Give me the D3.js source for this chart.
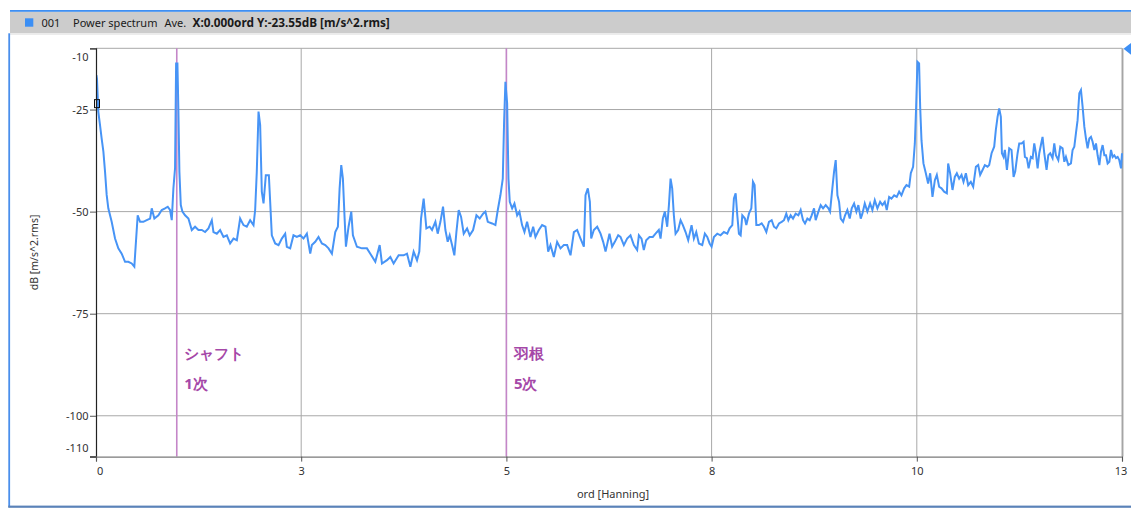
<!DOCTYPE html>
<html>
<head>
<meta charset="utf-8">
<script src="https://cdn.jsdelivr.net/npm/d3@7"></script>
<style>
  html, body { margin: 0; padding: 0; background: #ffffff; }
  svg { display: block; }
  text { font-family: "Noto Sans", "Open Sans", sans-serif; }
</style>
</head>
<body>
<svg id="chart" width="1131" height="508"></svg>
<script>
// Power spectrum (averaged), order axis vs dB
const ord = [
  0, 0.005, 0.012, 0.028, 0.049, 0.069, 0.090, 0.110, 0.130, 0.150, 0.191, 0.232, 0.272, 0.313, 0.354, 0.394,
  0.435, 0.467, 0.484, 0.508, 0.537, 0.577, 0.618, 0.659, 0.679, 0.711, 0.760, 0.801, 0.841, 0.874, 0.902,
  0.923, 0.943, 0.963, 0.976, 0.992, 1.004, 1.016, 1.033, 1.053, 1.085, 1.126, 1.167, 1.207, 1.248, 1.289,
  1.329, 1.370, 1.411, 1.431, 1.472, 1.512, 1.553, 1.594, 1.634, 1.675, 1.716, 1.756, 1.797, 1.837, 1.878,
  1.919, 1.939, 1.959, 1.980, 2.000, 2.020, 2.041, 2.069, 2.106, 2.122, 2.142, 2.183, 2.224, 2.264, 2.305,
  2.325, 2.366, 2.406, 2.447, 2.488, 2.528, 2.569, 2.610, 2.630, 2.671, 2.711, 2.752, 2.793, 2.833, 2.874,
  2.915, 2.947, 2.968, 2.988, 3.008, 3.029, 3.045, 3.077, 3.110,
  3.130, 3.179, 3.240, 3.301, 3.342, 3.403, 3.456, 3.484, 3.545, 3.586, 3.626, 3.687, 3.748, 3.789, 3.830,
  3.870, 3.911, 3.939, 3.960, 3.992, 4.025, 4.065, 4.094, 4.135, 4.163, 4.196, 4.228, 4.257, 4.285, 4.309,
  4.338, 4.366, 4.391, 4.419, 4.448, 4.480, 4.521, 4.553, 4.594, 4.635, 4.675, 4.716, 4.744, 4.773, 4.826,
  4.866, 4.895, 4.927, 4.956, 4.972, 4.988, 5.009, 5.025, 5.041, 5.070, 5.098, 5.131, 5.159, 5.191, 5.220,
  5.252, 5.293, 5.326, 5.354, 5.395, 5.435, 5.476, 5.509, 5.537, 5.578, 5.618, 5.659, 5.700, 5.740, 5.781,
  5.822, 5.862, 5.903, 5.944, 5.964, 5.992, 6.017, 6.033, 6.065, 6.106, 6.147, 6.179, 6.208,
  6.256, 6.288, 6.321, 6.362, 6.390, 6.431, 6.471, 6.512, 6.553, 6.593, 6.614, 6.646, 6.674, 6.703, 6.744,
  6.784, 6.817, 6.857, 6.878, 6.906, 6.931, 6.959, 6.980, 7.000, 7.020, 7.040, 7.061, 7.093, 7.122, 7.150,
  7.183, 7.215, 7.256, 7.284, 7.313, 7.345, 7.386, 7.418, 7.447, 7.476, 7.500, 7.528, 7.569, 7.609, 7.650,
  7.691, 7.719, 7.752, 7.772, 7.793, 7.813, 7.833, 7.854, 7.874, 7.906, 7.923, 7.955, 7.984, 8.004, 8.024,
  8.045, 8.077, 8.110, 8.138, 8.167, 8.199, 8.232, 8.260, 8.288, 8.321, 8.354, 8.382, 8.410, 8.435, 8.463,
  8.492, 8.524, 8.557, 8.585, 8.614, 8.638, 8.667, 8.695, 8.719, 8.748, 8.768, 8.801, 8.829, 8.858, 8.890,
  8.923, 8.943, 8.971, 8.992, 9.012, 9.033, 9.053, 9.073, 9.102, 9.126, 9.154, 9.183, 9.207, 9.236, 9.264,
  9.288, 9.317,
  9.337, 9.366, 9.398, 9.431, 9.459, 9.488, 9.520, 9.553, 9.581, 9.610, 9.634, 9.663, 9.691, 9.724, 9.756,
  9.785, 9.813, 9.846, 9.874, 9.907, 9.927, 9.955, 9.976, 9.992, 10.008, 10.028, 10.041, 10.057, 10.081, 10.110,
  10.138, 10.163, 10.191, 10.220, 10.244, 10.272, 10.301, 10.333, 10.366, 10.382, 10.406, 10.435, 10.463, 10.488, 10.516,
  10.545, 10.569, 10.598, 10.626, 10.658, 10.687, 10.720, 10.748, 10.772, 10.801, 10.829, 10.862, 10.882, 10.911, 10.943,
  10.963, 10.984, 11.004, 11.024, 11.037, 11.057, 11.073, 11.098, 11.126, 11.154, 11.179, 11.199, 11.228, 11.248, 11.276,
  11.301, 11.317, 11.341, 11.362, 11.390, 11.411, 11.431, 11.451, 11.472, 11.492, 11.512, 11.532, 11.553, 11.581, 11.602,
  11.626, 11.654, 11.675, 11.695, 11.724, 11.748, 11.776, 11.797, 11.817, 11.846, 11.878, 11.898, 11.919, 11.939, 11.959,
  11.980, 12.000, 12.020, 12.041, 12.061, 12.081, 12.102, 12.122, 12.142, 12.163, 12.183, 12.203, 12.224, 12.244, 12.264,
  12.285, 12.305, 12.325, 12.346, 12.366, 12.386, 12.406, 12.427, 12.447, 12.467, 12.488, 12.500
];

const dB = [
  -23.6, -16.6, -17.5, -25.5, -28.8, -32.1, -35.3, -40.2, -45.9, -49.2, -52.5, -56.6, -59.0, -60.3, -62.3, -62.3,
  -62.7, -63.5, -58.2, -50.9, -52.5, -52.5, -52.1, -51.7, -49.2, -51.7, -50.9, -49.6, -49.2, -48.8, -49.6,
  -52.1, -44.3, -39.4, -13.7, -13.7, -25.5, -40.2, -48.4, -50.0, -50.9, -51.7, -54.5, -53.7, -54.5, -54.5,
  -55.0, -54.1, -52.1, -55.0, -55.4, -54.5, -56.2, -55.8, -57.8, -56.6, -57.0, -51.7, -53.3, -53.7, -52.1,
  -53.3, -49.6, -40.2, -25.5, -28.8, -45.1, -48.0, -41.1, -41.1, -47.6, -55.8, -57.8, -58.2, -56.6, -55.4,
  -58.6, -59.0, -55.8, -56.2, -55.8, -56.6, -55.4, -60.3, -58.2, -57.4, -56.2, -57.8, -58.2, -59.0, -60.3,
  -55.0, -53.7, -44.3, -38.6, -41.9, -51.7, -58.6, -53.7, -50.0,
  -55.8, -58.6, -59.0, -59.0, -60.3, -62.3, -58.2, -62.7, -61.9, -61.1, -62.7, -60.7, -60.7, -60.3, -63.5,
  -59.8, -61.9, -59.8, -51.7, -46.8, -54.1, -53.7, -54.5, -52.5, -55.4, -52.5, -48.8, -54.5, -57.4, -55.8,
  -58.2, -60.7, -55.0, -49.6, -51.3, -55.4, -54.1, -55.8, -54.5, -50.9, -51.7, -50.5, -50.0, -52.5, -52.9,
  -53.3, -49.6, -46.0, -41.9, -28.0, -18.2, -23.5, -41.9, -47.6, -49.2, -48.0, -50.9, -50.0, -53.3, -55.0,
  -52.5, -56.2, -53.7, -56.2, -54.5, -53.3, -53.7, -59.8, -58.2, -61.1, -57.4, -59.0, -58.2, -58.2, -60.7,
  -55.0, -54.5, -56.6, -58.6, -46.0, -44.3, -47.6, -56.6, -54.5, -53.7, -55.4, -57.4, -59.8,
  -55.4, -58.6, -57.4, -55.8, -56.2, -58.2, -56.6, -55.8, -58.2, -59.4, -55.8, -56.6, -59.4, -57.0, -56.2,
  -56.2, -55.4, -54.5, -56.6, -51.7, -50.0, -53.7, -48.4, -41.9, -44.3, -50.9, -55.4, -54.5, -52.1, -53.3,
  -55.0, -57.0, -53.3, -56.6, -55.0, -57.8, -58.2, -55.4, -56.2, -57.8, -58.6, -56.2, -55.4, -55.8, -55.0,
  -55.4, -54.1, -53.3, -46.8, -45.5, -50.9, -55.4, -55.8, -50.9, -51.7, -53.3, -50.5, -49.2, -42.7, -43.5,
  -53.3, -53.3, -52.9, -53.7, -55.0, -52.5, -52.1, -53.7, -54.1, -52.9, -52.5, -52.1, -50.5, -52.1, -50.9,
  -51.7, -50.5, -50.9, -49.6, -52.1, -52.9, -51.7, -52.1, -50.9, -49.2, -52.1, -50.0, -48.4, -49.2, -48.4,
  -49.2, -50.0, -44.3, -40.2, -37.4, -46.0, -47.6, -51.7, -52.5, -50.9, -49.6, -51.7, -49.2, -48.0, -50.0,
  -48.4, -51.7,
  -50.5, -48.0, -50.0, -48.0, -49.6, -47.2, -49.2, -47.6, -48.4, -47.6, -49.6, -46.4, -46.8, -46.0, -46.4,
  -45.1, -46.0, -44.3, -43.5, -43.9, -40.6, -39.0, -33.3, -24.3, -13.3, -13.7, -24.3, -32.5, -38.2, -40.6,
  -43.1, -40.6, -46.4, -42.3, -41.0, -43.9, -44.3, -45.1, -45.5, -38.2, -40.6, -44.7, -41.5, -40.6, -41.9,
  -41.0, -42.7, -40.6, -43.5, -42.7, -43.9, -39.0, -38.6, -41.0, -39.8, -38.6, -39.0, -38.6, -35.7, -34.1,
  -30.0, -26.8, -24.7, -26.8, -35.7, -36.6, -34.9, -39.8, -34.5, -34.9, -41.5, -40.2, -35.7, -33.3, -33.3,
  -32.9, -36.6, -36.9, -39.4, -36.6, -36.9, -33.3, -35.7, -39.4, -35.7, -33.7, -31.7, -35.7, -39.8, -36.2,
  -35.7, -36.9, -33.3, -36.2, -37.4, -34.1, -34.5, -37.8, -36.6, -38.6, -38.2, -34.9, -34.1, -30.8, -27.6,
  -21.0, -20.2, -24.3, -29.2, -32.1, -34.5, -32.1, -31.7, -32.9, -34.9, -33.3, -36.2, -38.6, -35.3, -33.7,
  -36.2, -36.2, -38.2, -37.8, -34.9, -36.6, -36.2, -36.9, -36.6, -37.4, -39.4, -35.7
];

// Axis ticks
const yTicks = [-10, -25, -50, -75, -100, -110];
const xTicks = [0, 2.5, 5, 7.5, 10, 12.5];
const xTickLabels = ["0", "3", "5", "8", "10", "13"];

// Order markers
const markerOrd = [0.984, 5.0];
const markerLabels = [["シャフト", "1次"], ["羽根", "5次"]];

// Cursor readout
const cursorX = 0.0;
const cursorY = -23.55;

const svg = d3.select("#chart");
const W = 1131, H = 508;
const P = { left: 96, right: 1122, top: 48.3, bottom: 456.6 };

const x = d3.scaleLinear().domain([0, 12.5]).range([P.left, P.right]);
const y = d3.scaleLinear().domain([-110, -10]).range([P.bottom, P.top]);

// ---- window frame and title bar ----
svg.append("rect").attr("x", 10).attr("y", 11.7).attr("width", W - 10).attr("height", 21.6).attr("fill", "#cccccc");
svg.append("rect").attr("x", 10).attr("y", 33.3).attr("width", W - 10).attr("height", 1.5).attr("fill", "#e8e8e8");
svg.append("rect").attr("x", 10).attr("y", 10).attr("width", W - 10).attr("height", 1.8).attr("fill", "#3f8ff2");
svg.append("rect").attr("x", 8.3).attr("y", 33.3).attr("width", 1.8).attr("height", 474).attr("fill", "#4a8fec");
svg.append("rect").attr("x", 8.3).attr("y", 505.6).attr("width", W - 8).attr("height", 2.2).attr("fill", "#5a82b8");

svg.append("rect").attr("x", 25).attr("y", 18.3).attr("width", 8.3).attr("height", 8.4).attr("fill", "#3b8ff5");

const hdr = svg.append("g").attr("font-size", 11).attr("fill", "#1a1a1a");
hdr.append("text").attr("x", 41.5).attr("y", 27).text("001");
hdr.append("text").attr("x", 73).attr("y", 27).text("Power spectrum");
hdr.append("text").attr("x", 164.5).attr("y", 27).text("Ave.");
hdr.append("text").attr("x", 192.5).attr("y", 27).attr("font-weight", "bold")
  .attr("font-size", 11.8)
  .attr("font-family", "'Liberation Sans', Arial, sans-serif")
  .text("X:0.000ord Y:-23.55dB [m/s^2.rms]");

// ---- grid ----
const grid = svg.append("g").attr("stroke", "#a8a8a8").attr("stroke-width", 1);
grid.selectAll("line.h").data(yTicks.filter(d => d !== -110)).join("line")
  .attr("class", "h")
  .attr("x1", P.left).attr("x2", P.right)
  .attr("y1", d => y(d)).attr("y2", d => y(d));
grid.selectAll("line.v").data(xTicks.filter(d => d !== 0)).join("line")
  .attr("class", "v")
  .attr("x1", d => x(d)).attr("x2", d => x(d))
  .attr("y1", P.top).attr("y2", P.bottom);
// right frame edge a bit heavier
svg.append("line").attr("x1", x(12.5) + 0.8).attr("x2", x(12.5) + 0.8)
  .attr("y1", P.top).attr("y2", P.bottom)
  .attr("stroke", "#9a9a9a").attr("stroke-width", 1.2);

// ---- order marker lines ----
svg.append("g").selectAll("line").data(markerOrd).join("line")
  .attr("x1", d => x(d)).attr("x2", d => x(d))
  .attr("y1", P.top).attr("y2", P.bottom)
  .attr("stroke", "#c486c8").attr("stroke-width", 1.6);

// ---- spectrum line ----
svg.append("defs").append("clipPath").attr("id", "plotClip")
  .append("rect").attr("x", P.left).attr("y", P.top - 2)
  .attr("width", P.right - P.left + 1).attr("height", P.bottom - P.top + 2);

const pts = ord.map((o, i) => [o, dB[i]]);
const line = d3.line().x(d => x(d[0])).y(d => y(d[1]));
svg.append("path")
  .datum(pts)
  .attr("clip-path", "url(#plotClip)")
  .attr("fill", "none")
  .attr("stroke", "#4794f6")
  .attr("stroke-width", 2)
  .attr("stroke-linejoin", "miter")
  .attr("d", line);

// ---- axes ----
const yAxis = svg.append("g")
  .attr("transform", `translate(${P.left},0)`)
  .call(d3.axisLeft(y).tickValues(yTicks).tickSize(6).tickPadding(1.5).tickFormat(d => String(d)));
yAxis.select(".domain").attr("stroke", "#222").attr("stroke-width", 1.2);
yAxis.selectAll(".tick line").attr("stroke", "#555");
yAxis.selectAll(".tick text")
  .attr("font-size", 11).attr("fill", "#333")
  .attr("font-family", "'Noto Sans', sans-serif")
  .attr("dy", d => d === -10 ? "1.15em" : d === -110 ? "-0.5em" : "0.32em");

const xAxis = svg.append("g")
  .attr("transform", `translate(0,${P.bottom})`)
  .call(d3.axisBottom(x).tickValues(xTicks).tickSize(5).tickPadding(6)
    .tickFormat((d, i) => xTickLabels[i]));
xAxis.select(".domain").attr("stroke", "#7a7a7a").attr("stroke-width", 1.2);
xAxis.selectAll(".tick line").attr("stroke", "#555");
xAxis.selectAll(".tick text")
  .attr("font-size", 11).attr("fill", "#333")
  .attr("font-family", "'Noto Sans', sans-serif")
  .attr("text-anchor", d => d === 0 ? "start" : "middle")
  .attr("x", d => d === 0 ? 0.5 : d === 12.5 ? -1.5 : 0);
// extend bottom axis left to meet the y ticks
svg.append("line").attr("x1", P.left - 6).attr("x2", P.left)
  .attr("y1", P.bottom).attr("y2", P.bottom).attr("stroke", "#555");

// axis titles
svg.append("text")
  .attr("transform", `translate(38,${(P.top + P.bottom) / 2}) rotate(-90)`)
  .attr("text-anchor", "middle").attr("font-size", 10.5).attr("fill", "#333")
  .text("dB [m/s^2.rms]");
svg.append("text")
  .attr("x", 613).attr("y", 497.5)
  .attr("text-anchor", "middle").attr("font-size", 11).attr("fill", "#333")
  .text("ord [Hanning]");

// ---- marker annotations ----
const ann = svg.append("g")
  .attr("font-family", "'Noto Sans CJK JP', sans-serif")
  .attr("font-weight", 700).attr("font-size", 15).attr("fill", "#a548a8");
markerOrd.forEach((m, i) => {
  ann.append("text").attr("x", x(m) + 7.5).attr("y", 358.5).text(markerLabels[i][0]);
  ann.append("text").attr("x", x(m) + 7.5).attr("y", 389).text(markerLabels[i][1]);
});

// ---- cursor marks ----
svg.append("rect")
  .attr("x", x(cursorX) - 1.5).attr("y", y(cursorY) - 4)
  .attr("width", 5).attr("height", 8)
  .attr("fill", "none").attr("stroke", "#111").attr("stroke-width", 1);
svg.append("path")
  .attr("d", `M${P.right + 1.5},${P.top + 0.5} L${W + 2},${P.top - 7} L${W + 2},${P.top + 8} Z`)
  .attr("fill", "#3d8ff5");
</script>
</body>
</html>
